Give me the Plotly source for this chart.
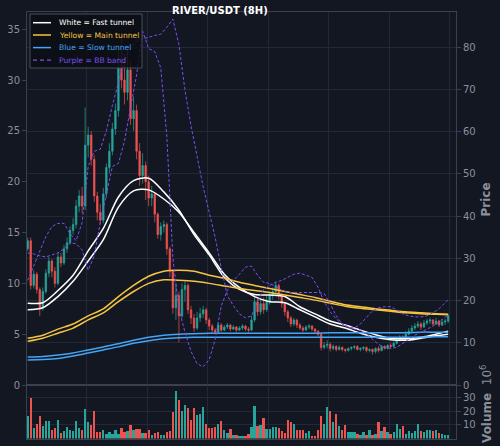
import plotly.graph_objects as go

# ---------------- data (left price axis units, volume in millions) ----------------
OPEN = [13.4, 14.2, 9.8, 10.9, 9.4, 7.6, 9.2, 11.0, 12.2, 11.2,
        10.0, 12.6, 12.0, 13.4, 14.0, 15.2, 15.8, 17.6, 18.6, 17.6,
        23.6, 24.6, 22.2, 18.6, 17.0, 16.2, 18.8, 21.4, 23.0, 25.2,
        27.0, 31.2, 30.0, 28.8, 31.0, 26.2, 27.0, 23.0, 20.6, 21.6,
        20.0, 18.4, 18.8, 16.8, 14.8, 15.6, 15.8, 13.4, 11.2, 7.6,
        8.8, 6.8, 9.4, 9.8, 7.4, 6.6, 5.6, 6.6, 7.0, 7.4,
        6.4, 5.8, 5.4, 5.2, 5.9, 5.4, 5.7, 5.9, 5.5, 5.7,
        5.4, 5.6, 5.8, 5.5, 5.4, 6.4, 8.2, 7.2, 8.0, 7.4,
        8.2, 8.8, 9.2, 9.8, 8.8, 8.0, 7.2, 6.6, 6.0, 6.4,
        5.9, 5.6, 5.4, 5.7, 5.8, 5.5, 5.3, 5.0, 3.7, 3.9,
        4.0, 3.6, 3.8, 3.5, 3.7, 3.5, 3.4, 3.6, 3.7, 3.8,
        3.5, 3.6, 3.7, 3.4, 3.5, 3.3, 3.6, 3.4, 3.8, 3.6,
        3.9, 3.8, 4.1, 4.4, 4.7, 4.5, 5.0, 5.3, 5.6, 5.8,
        6.0, 5.7, 6.1, 6.3, 6.4, 6.0, 6.3, 5.9, 6.2, 6.3]
HIGH = [14.5, 14.5, 11.3, 11.1, 9.6, 9.6, 11.4, 12.6, 12.4, 11.6,
        13.0, 13.0, 13.8, 14.5, 15.6, 16.4, 18.2, 19.2, 19.5, 27.3,
        25.4, 25.0, 22.6, 19.0, 17.8, 19.4, 21.8, 23.8, 25.8, 27.7,
        33.5, 34.2, 32.6, 33.0, 31.8, 28.4, 27.6, 23.8, 22.8, 22.0,
        20.6, 19.6, 19.0, 17.0, 16.0, 16.2, 16.0, 13.6, 11.4, 10.0,
        9.2, 10.0, 10.2, 10.0, 7.8, 7.0, 7.2, 7.6, 7.8, 7.6,
        6.6, 6.0, 5.6, 6.2, 6.1, 5.9, 6.1, 6.0, 5.9, 5.8,
        5.8, 6.0, 5.9, 5.7, 6.8, 8.8, 8.5, 8.4, 8.6, 8.8,
        9.2, 9.6, 10.2, 10.0, 9.0, 8.2, 7.4, 6.8, 6.6, 6.5,
        6.1, 5.8, 5.9, 6.0, 5.9, 5.6, 5.4, 5.1, 4.2, 4.4,
        4.2, 4.0, 3.9, 3.9, 3.8, 3.6, 3.7, 3.8, 3.9, 3.9,
        3.7, 3.8, 3.8, 3.6, 3.6, 3.7, 3.8, 3.9, 3.9, 4.0,
        4.1, 4.3, 4.6, 4.9, 4.9, 5.3, 5.6, 5.9, 6.1, 6.3,
        6.2, 6.4, 6.5, 6.6, 6.5, 6.6, 6.4, 6.5, 6.5, 7.0]
LOW = [13.2, 9.4, 9.5, 9.0, 6.8, 7.3, 9.0, 10.6, 10.6, 9.6,
       9.8, 11.6, 11.8, 13.0, 13.8, 14.8, 15.4, 17.0, 16.9, 17.2,
       22.4, 21.6, 18.0, 16.2, 15.8, 15.9, 18.4, 20.8, 22.6, 24.6,
       26.4, 29.2, 27.6, 28.0, 25.6, 25.0, 22.2, 19.6, 19.8, 18.2,
       17.6, 17.6, 16.0, 14.4, 14.2, 15.0, 12.8, 10.6, 7.0, 6.4,
       4.2, 6.6, 8.2, 7.0, 6.0, 5.2, 5.4, 6.2, 6.6, 6.0,
       5.4, 5.1, 5.0, 5.1, 5.2, 5.3, 5.5, 5.3, 5.4, 5.2,
       5.3, 5.4, 5.3, 5.2, 5.3, 6.2, 6.8, 6.9, 7.0, 7.2,
       7.9, 8.4, 8.8, 8.4, 7.6, 6.8, 6.2, 5.7, 5.8, 5.6,
       5.4, 5.2, 5.3, 5.5, 5.3, 5.1, 4.8, 3.4, 3.5, 3.6,
       3.3, 3.4, 3.3, 3.4, 3.3, 3.2, 3.3, 3.4, 3.5, 3.4,
       3.3, 3.4, 3.2, 3.2, 3.0, 3.1, 3.2, 3.3, 3.5, 3.5,
       3.6, 3.7, 4.0, 4.3, 4.3, 4.4, 4.9, 5.1, 5.4, 5.6,
       5.4, 5.6, 5.9, 6.0, 5.8, 5.9, 5.7, 5.8, 5.9, 6.1]
CLOSE = [14.2, 9.8, 10.9, 9.4, 7.6, 9.2, 11.0, 12.2, 11.2, 10.0,
         12.6, 12.0, 13.4, 14.0, 15.2, 15.8, 17.6, 18.6, 17.6, 23.6,
         24.6, 22.2, 18.6, 17.0, 16.2, 18.8, 21.4, 23.0, 25.2, 27.0,
         31.2, 30.0, 28.8, 31.0, 26.2, 27.0, 23.0, 20.6, 21.6, 20.0,
         18.4, 18.8, 16.8, 14.8, 15.6, 15.8, 13.4, 11.2, 7.6, 8.8,
         6.8, 9.4, 9.8, 7.4, 6.6, 5.6, 6.6, 7.0, 7.4, 6.4,
         5.8, 5.4, 5.2, 5.9, 5.4, 5.7, 5.9, 5.5, 5.7, 5.4,
         5.6, 5.8, 5.5, 5.4, 6.4, 8.2, 7.2, 8.0, 7.4, 8.2,
         8.8, 9.2, 9.8, 8.8, 8.0, 7.2, 6.6, 6.0, 6.4, 5.9,
         5.6, 5.4, 5.7, 5.8, 5.5, 5.3, 5.0, 3.7, 3.9, 4.0,
         3.6, 3.8, 3.5, 3.7, 3.5, 3.4, 3.6, 3.7, 3.8, 3.5,
         3.6, 3.7, 3.4, 3.5, 3.3, 3.6, 3.4, 3.8, 3.6, 3.9,
         3.8, 4.1, 4.4, 4.7, 4.5, 5.0, 5.3, 5.6, 5.8, 6.0,
         5.7, 6.1, 6.3, 6.4, 6.0, 6.3, 5.9, 6.2, 6.3, 6.8]
VOLUME = [16.8, 30.0, 7.7, 10.8, 16.8, 8.9, 12.5, 12.5, 6.5, 7.7,
          13.2, 4.1, 5.5, 8.4, 6.0, 5.5, 12.7, 7.7, 6.0, 21.6,
          12.0, 10.1, 19.9, 4.8, 4.8, 6.5, 3.6, 4.8, 3.6, 6.5,
          3.6, 7.7, 4.8, 5.3, 10.1, 6.5, 7.2, 7.2, 4.1, 4.1,
          6.5, 2.4, 4.1, 4.8, 2.4, 2.4, 4.8, 5.5, 19.2, 34.8,
          28.1, 20.4, 24.7, 22.3, 13.2, 22.3, 17.3, 18.0, 22.8, 10.3,
          7.7, 7.7, 8.4, 10.8, 12.5, 6.5, 4.1, 7.2, 2.4, 2.4,
          1.7, 1.7, 1.7, 3.1, 8.4, 24.0, 8.9, 9.6, 14.9, 6.7,
          7.2, 8.4, 8.4, 7.7, 5.5, 4.1, 13.2, 11.8, 10.3, 6.0,
          6.5, 6.0, 4.1, 5.3, 1.7, 1.7, 6.5, 16.8, 10.8, 23.3,
          20.4, 12.2, 18.0, 8.9, 6.5, 9.6, 4.8, 4.8, 4.8, 3.1,
          2.4, 4.8, 2.4, 6.5, 2.4, 3.6, 12.0, 5.5, 8.4, 4.8,
          3.6, 4.8, 10.8, 7.2, 8.9, 3.6, 5.5, 4.3, 5.3, 10.8,
          5.5, 4.8, 6.0, 6.5, 5.5, 6.0, 4.1, 3.6, 2.4, 2.4]

# tunnel lines (sampled every 5 candles)
TUNNEL_IDX = [0, 5, 10, 15, 20, 25, 30, 35, 40, 45, 50, 55, 60, 65, 70,
              75, 80, 85, 90, 95, 100, 105, 110, 115, 120, 125, 130, 135, 139]
FAST_1 = [8.05, 8.1, 9.3, 10.8, 13.2, 15.4, 18.5, 20.1, 20.35, 19.0, 17.2, 14.8, 12.8, 10.6, 9.4,
          8.9, 8.85, 8.7, 7.7, 7.0, 6.3, 5.9, 5.4, 4.95, 4.6, 4.55, 4.7, 5.0, 5.3]
FAST_2 = [7.4, 7.6, 8.7, 10.2, 12.2, 14.3, 17.5, 19.1, 19.2, 18.3, 17.0, 15.0, 13.0, 10.9, 9.6,
          8.7, 8.2, 8.1, 7.4, 6.7, 6.0, 5.6, 5.1, 4.7, 4.45, 4.4, 4.6, 4.85, 5.0]
MAIN_1 = [4.6, 4.9, 5.5, 6.0, 6.8, 7.5, 8.7, 9.8, 10.7, 11.2, 11.3, 11.2, 10.8, 10.5, 10.1,
          9.8, 9.5, 9.2, 8.9, 8.6, 8.25, 7.9, 7.7, 7.5, 7.35, 7.2, 7.1, 7.0, 6.95]
MAIN_2 = [4.3, 4.6, 5.1, 5.6, 6.4, 7.1, 8.2, 9.2, 10.0, 10.35, 10.3, 10.2, 10.0, 9.75, 9.5,
          9.3, 9.1, 8.85, 8.6, 8.35, 8.05, 7.75, 7.55, 7.4, 7.25, 7.1, 7.0, 6.95, 6.9]
SLOW_1 = [2.75, 2.8, 2.95, 3.15, 3.45, 3.75, 4.05, 4.4, 4.7, 4.9, 5.0, 5.05, 5.1, 5.1, 5.1,
          5.1, 5.1, 5.1, 5.1, 5.1, 5.15, 5.15, 5.15, 5.15, 5.15, 5.15, 5.2, 5.2, 5.2]
SLOW_2 = [2.45, 2.5, 2.6, 2.85, 3.15, 3.45, 3.75, 4.1, 4.35, 4.55, 4.65, 4.7, 4.7, 4.7, 4.7,
          4.7, 4.7, 4.7, 4.7, 4.7, 4.7, 4.7, 4.7, 4.7, 4.7, 4.7, 4.72, 4.74, 4.75]

# BB band (sampled every 2 candles)
BB_IDX = [0, 2, 4, 6, 8, 10, 12, 14, 16, 18, 20, 22, 24, 26, 28, 30, 32, 34, 36, 38,
          40, 42, 44, 46, 48, 50, 52, 54, 56, 58, 60, 62, 64, 66, 68, 70, 72, 74, 76, 78,
          80, 82, 84, 86, 88, 90, 92, 94, 96, 98, 100, 102, 104, 106, 108, 110, 112, 114, 116, 118,
          120, 122, 124, 126, 128, 130, 132, 134, 136, 138, 139]
BB_A = [10.3, 11.8, 13.3, 14.6, 15.6, 15.9, 15.9, 14.9, 14.2, 16.0,
        21.5, 23.0, 23.2, 25.0, 27.5, 29.8, 32.0, 33.2, 33.8, 34.1,
        34.2, 34.4, 34.5, 35.2, 36.0, 33.5, 29.0, 25.5, 22.3, 19.5,
        17.0, 14.5, 11.5, 8.8, 7.8, 7.0, 6.6, 6.8, 8.2, 9.4,
        9.8, 10.1, 10.3, 10.6, 10.9, 11.0, 10.8, 10.6, 9.6, 8.2,
        7.2, 6.5, 6.0, 5.7, 5.5, 5.4, 5.0, 4.5, 4.0, 3.7,
        3.6, 3.7, 4.1, 4.5, 4.9, 5.2, 5.5, 5.8, 6.2, 6.7, 6.9]
BB_B = [13.0, 12.9, 12.7, 12.6, 12.8, 13.0, 13.4, 14.0, 13.9, 13.3,
        11.3, 12.7, 16.0, 18.8, 21.5, 21.8, 24.0, 27.3, 30.5, 34.8,
        33.1, 32.8, 31.2, 24.5, 12.5, 7.5, 5.2, 3.3, 2.1, 1.8,
        2.5, 4.5, 7.8, 9.3, 10.3, 10.9, 11.6, 11.7, 10.8, 10.1,
        10.0, 9.7, 9.3, 9.1, 9.1, 9.1, 9.1, 9.1, 9.1, 9.0,
        8.0, 6.8, 6.0, 5.7, 5.6, 6.0, 6.7, 7.3, 7.6, 7.7,
        7.7, 7.4, 7.0, 6.8, 6.7, 6.7, 6.8, 7.1, 7.5, 8.1, 8.4]

TITLE = "RIVER/USDT (8H)"
LEGEND_LABELS = ["White = Fast tunnel", "Yellow = Main tunnel",
                 "Blue = Slow tunnel", "Purple = BB band"]
LEFT_TICKS = [0, 5, 10, 15, 20, 25, 30, 35]
RIGHT_TICKS = [0, 10, 20, 30, 40, 50, 60, 70, 80]
VOL_TICKS = [10, 20, 30]

# ---------------- style ----------------
W, H = 500, 446
BG = "#131722"
GRID = "#232836"
SPINE = "#3b404c"
TICK = "#8c9099"
UP = "#26a69a"
DOWN = "#ef5350"
WHITE = "#ffffff"
YELLOW = "#f5c542"
BLUE = "#42a5f5"
PURPLE = "#7c4ff0"
LEGEND_COLORS = [WHITE, YELLOW, BLUE, PURPLE]


def px(x):
    return x / W


def py(y):
    return 1 - y / H


IDX = list(range(len(CLOSE)))
vol_colors = [UP if c >= o else DOWN for o, c in zip(OPEN, CLOSE)]

fig = go.Figure()
fig.add_trace(go.Candlestick(
    x=IDX, open=OPEN, high=HIGH, low=LOW, close=CLOSE,
    increasing=dict(line=dict(color=UP, width=0.7), fillcolor=UP),
    decreasing=dict(line=dict(color=DOWN, width=0.7), fillcolor=DOWN),
    whiskerwidth=0, showlegend=False, hoverinfo="skip",
    xaxis="x", yaxis="y"))


def add_line(y, color, dash=None, width=1.5, xs=TUNNEL_IDX, spline=True):
    fig.add_trace(go.Scatter(
        x=xs, y=y, mode="lines",
        line=dict(color=color, width=width, dash=dash,
                  shape="spline" if spline else "linear", smoothing=0.8),
        showlegend=False, hoverinfo="skip", xaxis="x", yaxis="y"))


add_line(FAST_1, WHITE)
add_line(FAST_2, WHITE)
add_line(MAIN_1, YELLOW)
add_line(MAIN_2, YELLOW)
add_line(SLOW_1, BLUE)
add_line(SLOW_2, BLUE)
add_line(BB_A, PURPLE, dash="3px,2px", width=1, xs=BB_IDX, spline=False)
add_line(BB_B, PURPLE, dash="3px,2px", width=1, xs=BB_IDX, spline=False)

# the right-hand "Price" scale
fig.add_trace(go.Scatter(x=[None], y=[None], mode="lines", showlegend=False,
                         hoverinfo="skip", xaxis="x", yaxis="y2"))

fig.add_trace(go.Bar(x=IDX, y=VOLUME, marker=dict(color=vol_colors, line=dict(width=0)),
                     width=0.78, showlegend=False, hoverinfo="skip",
                     xaxis="x2", yaxis="y3"))

x_dom = [px(27), px(456)]
main_dom = [py(385), py(12)]
vol_dom = [py(438.5), py(385)]
x_range = [-0.23, 141.6]
grid_x = [19.5, 39.5, 59.5, 79.5, 99.5, 119.5, 139.5]
tickfont = dict(family="DejaVu Sans", size=10, color=TICK)

# legend drawn as box + samples + coloured labels
shapes = [dict(type="rect", xref="paper", yref="paper", x0=px(30), x1=px(142),
               y0=py(68), y1=py(14), fillcolor="rgba(12,14,20,0.82)",
               line=dict(color="#4a4e58", width=1), layer="above")]
annotations = []
row_y = [22.7, 35.0, 47.6, 60.2]
for label, color, yy in zip(LEGEND_LABELS, LEGEND_COLORS, row_y):
    shapes.append(dict(type="line", xref="paper", yref="paper", x0=px(33), x1=px(51),
                       y0=py(yy), y1=py(yy), layer="above",
                       line=dict(color=color, width=1.5 if color != PURPLE else 1.2,
                                 dash="4px,3px" if color == PURPLE else "solid")))
    annotations.append(dict(text=label, x=px(56.5), y=py(yy), xref="paper", yref="paper",
                            showarrow=False, xanchor="left", yanchor="middle",
                            font=dict(family="DejaVu Sans", size=7.6, color=color)))

annotations += [
    dict(text=f"<b>{TITLE}</b>", x=px(220), y=py(11), xref="paper", yref="paper",
         showarrow=False, xanchor="center", yanchor="middle",
         font=dict(family="DejaVu Sans", size=10, color="#ffffff")),
    dict(text="<b>Price</b>", x=px(485.5), y=py(200), xref="paper", yref="paper",
         showarrow=False, textangle=-90, xanchor="center", yanchor="middle",
         font=dict(family="DejaVu Sans", size=12, color=TICK)),
    dict(text="<b>Volume</b>  10<sup>6</sup>", x=px(486), y=py(404), xref="paper",
         yref="paper", showarrow=False, textangle=-90, xanchor="center", yanchor="middle",
         font=dict(family="DejaVu Sans", size=12, color=TICK)),
]

fig.update_layout(
    width=W, height=H, margin=dict(l=0, r=0, t=0, b=0, autoexpand=False),
    paper_bgcolor=BG, plot_bgcolor=BG,
    font=dict(family="DejaVu Sans", color=TICK),
    showlegend=False, bargap=0,
    xaxis=dict(domain=x_dom, range=x_range, anchor="y", tickvals=grid_x, showticklabels=False,
               ticks="", showgrid=True, gridcolor=GRID, gridwidth=1, zeroline=False,
               showline=True, linecolor=SPINE, linewidth=1, mirror=True,
               rangeslider=dict(visible=False), automargin=False),
    yaxis=dict(domain=main_dom, range=[0, 36.7], anchor="x", side="left", tickvals=LEFT_TICKS,
               ticks="outside", ticklen=4, tickcolor=SPINE, showgrid=False, zeroline=False,
               showline=True, linecolor=SPINE, linewidth=1, tickfont=tickfont, automargin=False),
    yaxis2=dict(overlaying="y", anchor="x", side="right", range=[0, 88.3], tickvals=RIGHT_TICKS,
                ticks="outside", ticklen=4, tickcolor=SPINE, showgrid=True, gridcolor=GRID,
                zeroline=False, showline=True, linecolor=SPINE, linewidth=1, tickfont=tickfont,
                automargin=False),
    xaxis2=dict(domain=x_dom, range=x_range, anchor="y3", matches="x", tickvals=grid_x,
                showticklabels=False, ticks="", showgrid=True, gridcolor=GRID, zeroline=False,
                showline=True, linecolor=SPINE, linewidth=1, mirror=True, automargin=False),
    yaxis3=dict(domain=vol_dom, range=[0, 39.2], anchor="x2", side="right", tickvals=VOL_TICKS,
                ticks="outside", ticklen=4, tickcolor=SPINE, showgrid=True, gridcolor=GRID,
                zeroline=False, showline=True, linecolor=SPINE, linewidth=1, mirror=True,
                tickfont=tickfont, automargin=False),
    shapes=shapes,
    annotations=annotations,
)

fig.write_html("out.html")
